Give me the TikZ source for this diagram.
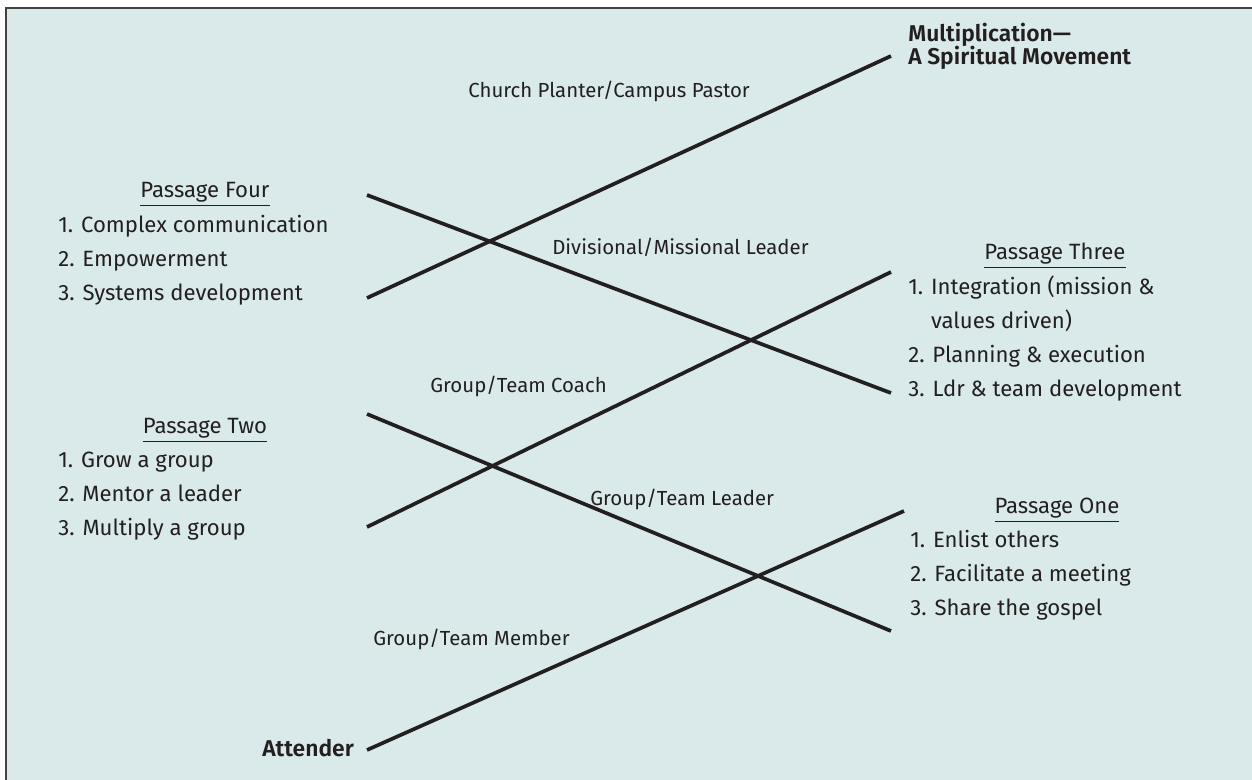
\documentclass[tikz,border=0pt]{standalone}
\usepackage{fontspec}
\setmainfont{Fira Sans}[BoldFont=* SemiBold]
\usetikzlibrary{positioning}
\definecolor{panel}{RGB}{218,234,234}
\definecolor{ink}{RGB}{35,31,32}
\tikzset{
  passline/.style={draw=ink,line width=2.1pt},
  listtext/.style={font=\fontsize{12.6pt}{15pt}\selectfont,text=ink,anchor=base west,inner sep=0pt},
  passtitle/.style={font=\fontsize{12.6pt}{15pt}\selectfont,text=ink,anchor=base,inner sep=0pt},
  rolelabel/.style={font=\fontsize{11.6pt}{14pt}\selectfont,text=ink,anchor=base west,inner sep=0pt},
  endlabel/.style={font=\bfseries\fontsize{13pt}{15pt}\selectfont,text=ink,anchor=base west,inner sep=0pt}
}
\begin{document}
\begin{tikzpicture}[x=0.02cm,y=-0.02cm]
\useasboundingbox (0,0) rectangle (1252,780);
\clip (0,0) rectangle (1252,780);
\draw[fill=panel,draw=ink!85,line width=0.8pt] (6,8) rectangle (1270,800);

% end points of the passage lines
\coordinate (attL) at (367,750);
\coordinate (p1R) at (904,511);
\coordinate (p2T) at (367,414);
\coordinate (p1B) at (891,631);
\coordinate (p2B) at (367,527);
\coordinate (p3T) at (891,272);
\coordinate (p4T) at (367,195);
\coordinate (p3B) at (891,393);
\coordinate (p4B) at (367,298);
\coordinate (multR) at (891,56);

\draw[passline] (attL) -- (p1R);
\draw[passline] (p2T) -- (p1B);
\draw[passline] (p2B) -- (p3T);
\draw[passline] (p4T) -- (p3B);
\draw[passline] (p4B) -- (multR);

% ends
\node[endlabel] (mult1) at (908,42) {Multiplication---};
\node[endlabel] (mult2) at (908,65) {A Spiritual Movement};
\node[endlabel] (att) at (262,756) {Attender};

% roles along the lines
\node[rolelabel] (planter) at (468,98) {Church Planter/Campus Pastor};
\node[rolelabel] (divis) at (552,255) {Divisional/Missional Leader};
\node[rolelabel] (coach) at (430,393) {Group/Team Coach};
\node[rolelabel] (leader) at (590,506) {Group/Team Leader};
\node[rolelabel] (member) at (373,645) {Group/Team Member};

% passage four
\node[passtitle] (p4) at (205,198) {\underline{Passage Four}};
\foreach \txt [count=\i] in {1. Complex communication,2. Empowerment,3. Systems development}
  \node[listtext] (p4-\i) at (58,233+34*\i-34) {\txt};

% passage two
\node[passtitle] (p2) at (205,434) {\underline{Passage Two}};
\foreach \txt [count=\i] in {1. Grow a group,2. Mentor a leader,3. Multiply a group}
  \node[listtext] (p2-\i) at (58,468+34*\i-34) {\txt};

% passage three
\node[passtitle] (p3) at (1055,260) {\underline{Passage Three}};
\foreach \txt [count=\i] in {1. Integration (mission \&,\phantom{1. }values driven),2. Planning \& execution,3. Ldr \& team development}
  \node[listtext] (p3-\i) at (908,295+34*\i-34) {\txt};

% passage one
\node[passtitle] (p1) at (1057,514) {\underline{Passage One}};
\foreach \txt [count=\i] in {1. Enlist others,2. Facilitate a meeting,3. Share the gospel}
  \node[listtext] (p1-\i) at (910,548+34*\i-34) {\txt};

\end{tikzpicture}
\end{document}
